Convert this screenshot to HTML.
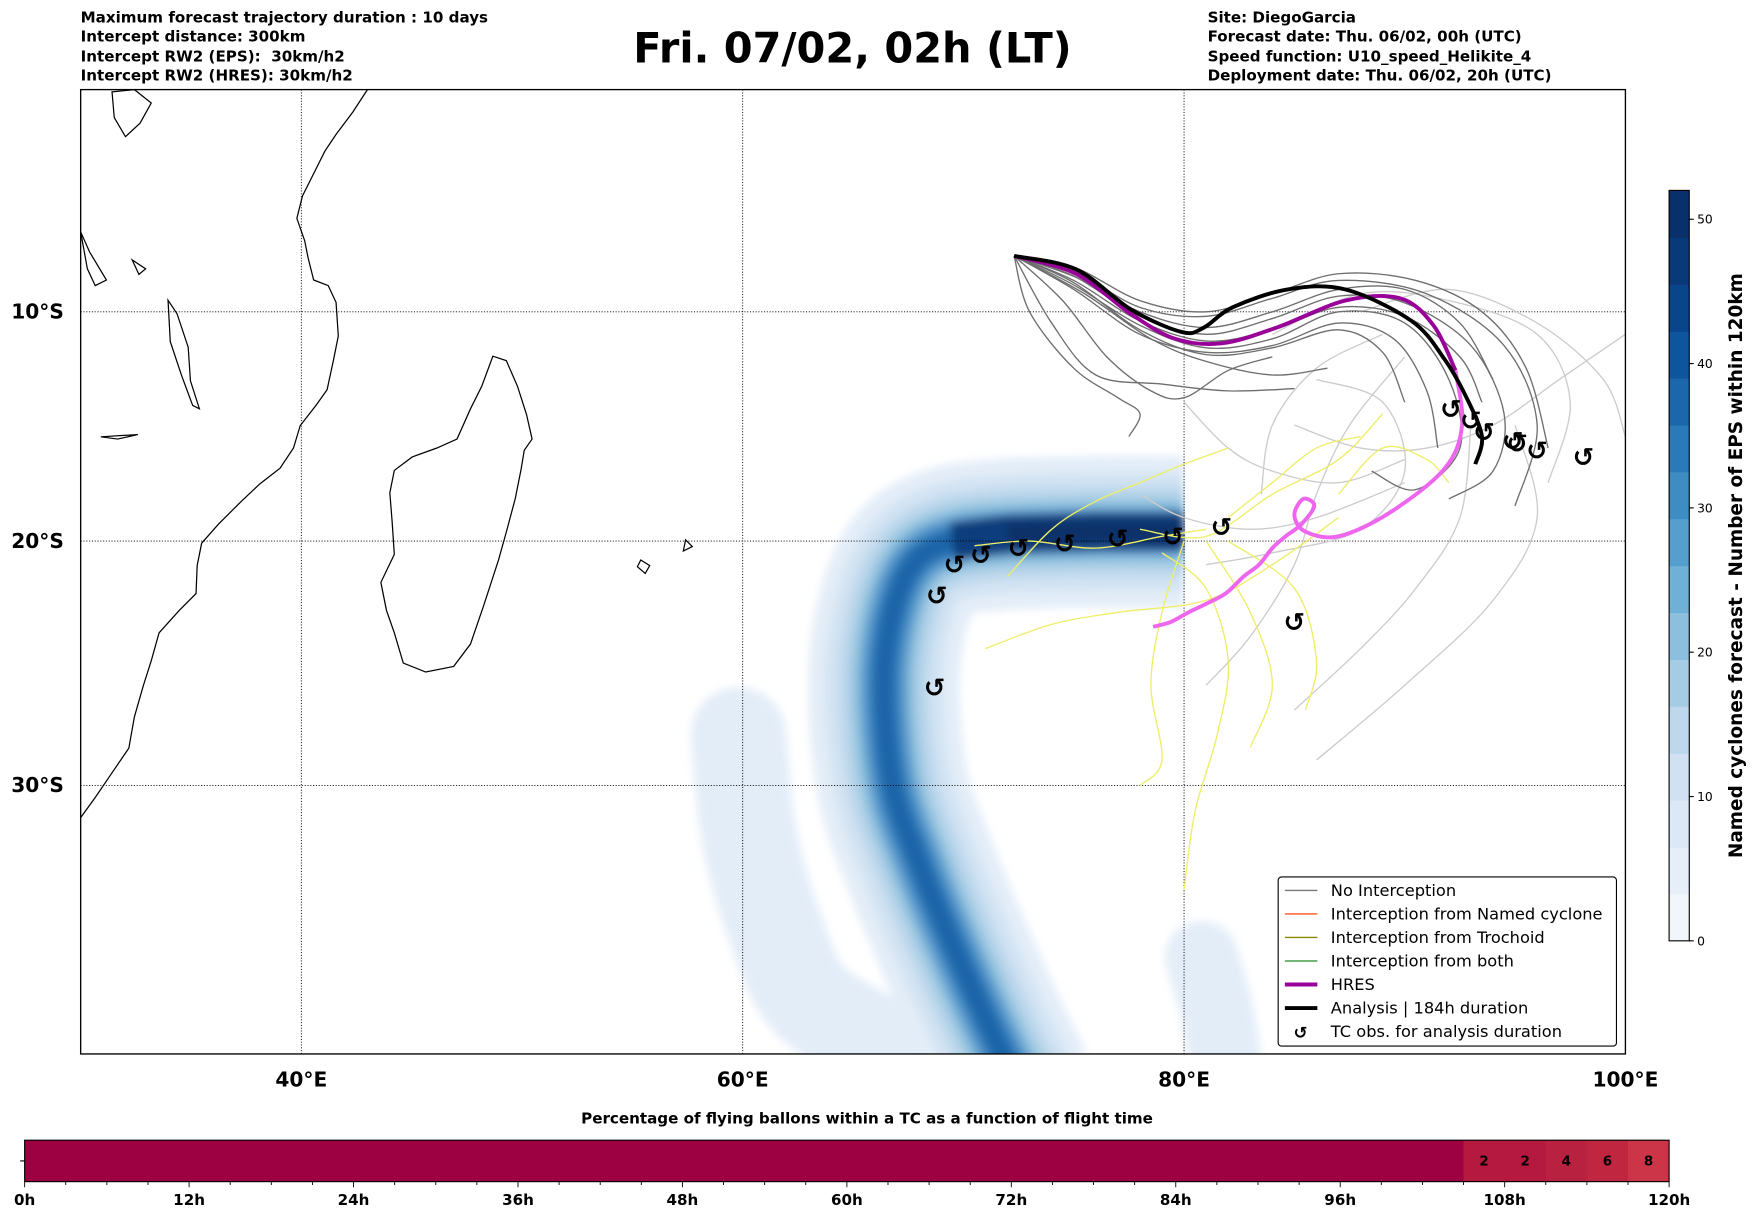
<!DOCTYPE html>
<html><head><meta charset="utf-8"><style>
html,body{margin:0;padding:0;background:#fff;}
svg{display:block;font-family:"DejaVu Sans","Liberation Sans",sans-serif;}
</style></head><body>
<svg id="chart" width="1752" height="1213" viewBox="0 0 1564 1083" preserveAspectRatio="none" xmlns="http://www.w3.org/2000/svg">
<g font-size="13.5" font-weight="bold">
<text x="72" y="20">Maximum forecast trajectory duration : 10 days</text>
<text x="72" y="37">Intercept distance: 300km</text>
<text x="72" y="55">Intercept RW2 (EPS):&#160; 30km/h2</text>
<text x="72" y="72">Intercept RW2 (HRES): 30km/h2</text>
</g>
<text x="761" y="56" font-size="37" font-weight="bold" text-anchor="middle">Fri. 07/02, 02h (LT)</text>
<g font-size="13.5" font-weight="bold">
<text x="1078" y="20">Site: DiegoGarcia</text>
<text x="1078" y="37">Forecast date: Thu. 06/02, 00h (UTC)</text>
<text x="1078" y="55">Speed function: U10_speed_Helikite_4</text>
<text x="1078" y="72">Deployment date: Thu. 06/02, 20h (UTC)</text>
</g>
<defs><clipPath id="mapclip"><rect x="72" y="80" width="1379" height="861"/></clipPath>
<filter id="blur4" filterUnits="userSpaceOnUse" x="0" y="0" width="1564" height="1083"><feGaussianBlur stdDeviation="4"/></filter></defs>
<g id="map" clip-path="url(#mapclip)"></g>
<rect x="72" y="80" width="1379" height="861" fill="none" stroke="#000" stroke-width="1.2"/>
<g id="axislabels" font-size="18" font-weight="bold"></g>
<g id="legend"></g>
<g id="cbar"></g>
<g id="bbar"></g>
</svg>
<script>
// ---- data ----
const lonTicks=[40,60,80,100];
const latTicks=[-10,-20,-30];
const bandCenter=[[80,-19.6],[76,-19.6],[72,-19.7],[69.5,-20.0],[67.8,-20.9],[66.8,-23],[66.4,-26],[66.8,-30],[68,-33],[69.5,-36],[71.5,-39.5],[72.5,-41]];
const lightBlob=[[59.8,-28],[60.3,-32],[61.5,-35.5],[63,-38],[66,-39.5]];
const rightBlob=[[80.8,-36.5],[81.5,-38.5],[82,-41]];
const analysisTrack=[[72.3,-7.5],[75.1,-8.1],[77.6,-9.9],[79.9,-10.9],[80.9,-10.7],[82.2,-9.8],[84.7,-9.0],[87.3,-9.0],[90.3,-10.4],[91.8,-12.1],[92.8,-13.8],[93.5,-15.5],[93.2,-16.7]];
const hresTrack=[[72.3,-7.5],[75.1,-8.3],[77.6,-10.1],[79.6,-11.2],[81.7,-11.4],[84.2,-10.7],[87.3,-9.5],[89.8,-9.4],[91.3,-10.6],[92.3,-12.6]];
const hresTail=[[92.3,-12.6],[92.6,-15.0],[91.8,-16.9],[89.3,-18.8],[87,-19.8],[85.5,-19.6],[85.0,-18.9],[85.4,-18.2],[85.9,-18.5],[85.3,-19.3],[84.6,-19.8],[84.0,-20.3],[83.4,-21.0],[82.7,-21.5],[81.9,-22.2],[81.1,-22.6],[80.2,-23.0],[79.4,-23.4],[78.6,-23.6]];
const cycObs=[[68.8,-22.3],[69.6,-21.0],[70.8,-20.6],[72.5,-20.3],[74.6,-20.1],[77.0,-19.9],[79.5,-19.8],[81.7,-19.4],[68.7,-26.1],[85.0,-23.4],[92.1,-14.3],[93.0,-14.8],[93.6,-15.3],[94.9,-15.7],[95.1,-15.8],[96.0,-16.1],[98.1,-16.4]];
const darkTracks=[
 [[72.3,-7.5],[75,-8.8],[78,-10.6],[81,-11.6],[84,-11.2],[87,-10],[90,-10.5],[92,-13],[92.5,-16],[90.5,-17.8],[88.5,-17]],
 [[72.3,-7.5],[75,-8.4],[78,-10.2],[81,-11.0],[84,-10.3],[87,-9.3],[90,-9.6],[93,-11.5],[94.5,-14.5],[94,-17],[92,-18.2]],
 [[72.3,-7.5],[74.5,-9.5],[76.5,-12],[78.5,-13.5],[80,-13.8],[82,-12.6],[84,-12]],
 [[72.3,-7.5],[73,-10],[75,-12.5],[77,-13.8],[78,-14.5],[77.5,-15.5]],
 [[72.3,-7.5],[75,-8.2],[78,-9.8],[81,-10.2],[84,-9.4],[87,-8.6],[91,-9.2],[94.5,-11.5],[96,-15],[95,-18.5]],
 [[72.3,-7.5],[75.5,-9.2],[78.5,-11.2],[81,-12.2],[84,-12.8],[86.5,-12.5]],
 [[72.3,-7.5],[75,-8.6],[78,-10.4],[81,-11.3],[84,-10.8],[87,-9.8],[90,-10.2],[92.5,-12],[93.5,-14]],
 [[72.3,-7.5],[75,-9.0],[78,-11.0],[81,-11.8],[84,-11.5],[87,-10.5],[89.5,-11.2],[91,-13.5],[91.5,-16]],
 [[72.3,-7.5],[75,-8.0],[78,-9.5],[81,-10.0],[84,-9.2],[87,-8.3],[90.5,-8.6],[93.5,-10],[95.5,-12.5],[96.5,-16]],
 [[72.3,-7.5],[74,-10.5],[76,-12.8],[79,-13.2],[82,-13.5],[85,-13.4]],
 [[72.3,-7.5],[75,-8.7],[78,-10.8],[81,-11.9],[84,-11.6],[87,-10.8],[89,-11.8],[90,-14]],
 [[72.3,-7.5],[75.2,-8.5],[78,-10.0],[81,-10.7],[84,-10.0],[87,-9.0],[90,-9.0],[92.5,-10.5],[94,-13]]
];
const lightTracks=[
 [[84,-11],[88,-9.2],[92,-9.5],[96,-11],[97.5,-14],[96.5,-17.5]],
 [[86,-13],[89,-14],[90,-17],[88,-19.5],[84,-20.5],[81,-21]],
 [[88,-10],[92,-9],[96,-10.5],[99,-13],[100,-15.5]],
 [[90,-12],[87.5,-15],[86,-18],[85,-21],[83,-24],[81,-26]],
 [[93,-15],[92.5,-19],[90.5,-22],[88,-24.5],[85,-27]],
 [[95,-15],[96,-19],[94,-22.5],[90,-26],[86,-29]],
 [[78,-18],[80,-19],[83,-19.5],[86,-19],[90,-17.5]],
 [[85,-15],[88,-16],[91,-16],[94,-15],[97,-13],[100,-11]],
 [[80,-14],[82,-16],[84,-17],[87,-17.5],[90,-16.5]],
 [[89,-11],[86,-12.5],[84,-15],[83.5,-18]]
];
const yellowTracks=[
 [[72,-21.5],[74,-19.5],[76,-18.3],[78,-17.5],[80,-16.7],[82,-16]],
 [[71,-24.5],[74,-23.5],[77,-23],[81,-22.5],[84,-21],[87,-19]],
 [[79,-20.5],[81,-22],[82,-25],[81.5,-28],[80.5,-31],[80,-34]],
 [[81,-20],[83,-23],[84,-26],[83,-28.5]],
 [[80,-20],[79,-23],[78.5,-26],[79,-29],[78,-30]],
 [[82,-20],[85,-22],[86,-25],[85.5,-27]],
 [[78,-19.5],[81,-19.8],[84,-18],[87,-16.5],[89,-14.5]],
 [[70.5,-20.2],[73,-20],[76,-20.3],[79,-19.8],[81,-19.5]],
 [[87,-18],[89,-16],[91,-16.5],[92,-17.5]],
 [[82,-19],[84,-17.5],[86,-16],[88,-15.5]]
];
const cbarTicks=[0,10,20,30,40,50];
const cbarMax=52;
const cbarColors=["#f0f6fc","#e6eff9","#dbe8f5","#cfe1f2","#bdd7ec","#a5cce4","#8cbfdd","#6fb0d6","#549fcd","#3d8dc3","#2a7ab9","#1a67ac","#0d559c","#08458a","#083a7a","#08306b"];
const barHours=[0,105,108,111,114,117];
const barEnds=[105,108,111,114,117,120];
const barValues=[0,2,2,4,6,8];
const barColors=["#9e0142","#b5193f","#b5193f","#b8213f","#c0263f","#cc3447"];
const hourTicks=[0,12,24,36,48,60,72,84,96,108,120];

// ---- scales ----
const X0=72, PXDEG=19.7;
function merc(lat){const r=lat*Math.PI/180;return Math.log(Math.tan(Math.PI/4+r/2));}
function sx(lon){return X0+(lon-30)*PXDEG;}
function sy(lat){return 80-1131*merc(lat);}
const NS="http://www.w3.org/2000/svg";
function mk(tag,attrs,parent){const e=document.createElementNS(NS,tag);for(const k in attrs)e.setAttribute(k,attrs[k]);parent.appendChild(e);return e;}
function pathOf(pts){return pts.map((p,i)=>(i?"L":"M")+sx(p[0]).toFixed(1)+","+sy(p[1]).toFixed(1)).join(" ");}
function smooth(pts){
 const P=pts.map(p=>[sx(p[0]),sy(p[1])]);let d="M"+P[0][0]+","+P[0][1];
 for(let i=0;i<P.length-1;i++){const p0=P[Math.max(0,i-1)],p1=P[i],p2=P[i+1],p3=P[Math.min(P.length-1,i+2)];
  d+=" C"+(p1[0]+(p2[0]-p0[0])/6)+","+(p1[1]+(p2[1]-p0[1])/6)+" "+(p2[0]-(p3[0]-p1[0])/6)+","+(p2[1]-(p3[1]-p1[1])/6)+" "+p2[0]+","+p2[1];}
 return d;}
const map=document.getElementById('map');

// density field
const dens=mk('g',{filter:"url(#blur4)"},map);


const lb=mk('path',{d:smooth(lightBlob),fill:"none",stroke:"#e3edf8","stroke-width":85,"stroke-linecap":"round","stroke-linejoin":"round"},dens);


const rb=mk('path',{d:smooth(rightBlob),fill:"none",stroke:"#e3edf8","stroke-width":65,"stroke-linecap":"round"},dens);


const bandW=[135,105,80,60,44,30,18];
const bandC=["#e3edf8","#d2e3f3","#bad6eb","#94c4df","#609fcf","#3580bd","#1d65a8"];
bandW.forEach((w,i)=>{
 const b=mk('path',{d:smooth(bandCenter),fill:"none",stroke:bandC[i],"stroke-width":w,"stroke-linejoin":"round"},dens);
 
 
});
const core=mk('path',{d:pathOf(bandCenter.slice(0,4)),fill:"none",stroke:"#0b3d7c","stroke-width":34},dens);


const core2=mk('path',{d:pathOf(bandCenter.slice(0,3)),fill:"none",stroke:"#08306b","stroke-width":20},dens);


// sharp east edge cut
const cut=mk('rect',{x:sx(80)+1,y:380,width:90,height:200,fill:"#fff"},map);



// coastlines (decorative geography)
const coast=[
 "M72,730 L85,712 L100,690 L115,668 L120,640 L128,612 L135,590 L142,565 L160,545 L175,530 L176,505 L180,485 L195,468 L215,448 L232,432 L250,418 L262,400 L268,380 L282,362 L292,348 L298,320 L302,300 L300,270 L293,255 L280,250 L275,230 L272,215 L265,195 L270,175 L280,155 L290,135 L300,120 L315,100 L328,80",
 "M440,318 L452,322 L462,345 L470,370 L475,392 L468,402 L465,420 L460,445 L452,475 L445,500 L432,540 L420,575 L405,595 L380,600 L360,592 L352,565 L345,545 L340,520 L352,495 L350,465 L348,440 L352,420 L368,408 L390,400 L408,392 L420,365 L430,345 Z",
 "M72,207 L80,225 L95,250 L85,255 L78,240 Z",
 "M150,268 L158,280 L168,310 L170,340 L178,365 L172,362 L162,335 L152,305 Z",
 "M118,232 L130,240 L124,245 Z",
 "M90,390 L123,388 L105,392 Z",
 "M572,500 L580,505 L576,512 L569,506 Z",
 "M612,482 L618,488 L610,492 Z",
 "M100,82 L120,80 L135,92 L125,110 L112,122 L102,105 Z"
];
coast.forEach(d=>{const c=mk('path',{d:d,fill:"none",stroke:"#000","stroke-width":1.1},map);
 
 });

// gridlines
lonTicks.forEach(v=>{const l=mk('line',{x1:sx(v),x2:sx(v),y1:80,y2:941,stroke:"#000","stroke-width":0.8,"stroke-dasharray":"1,1.5"},map);
 
 });
latTicks.forEach(v=>{const l=mk('line',{x1:72,x2:1451,y1:sy(v),y2:sy(v),stroke:"#000","stroke-width":0.8,"stroke-dasharray":"1,1.5"},map);
 
 });

// tracks
lightTracks.forEach(t=>{const p=mk('path',{d:smooth(t),fill:"none",stroke:"#cccccc","stroke-width":1.2},map);
 
 });
yellowTracks.forEach(t=>{const p=mk('path',{d:smooth(t),fill:"none",stroke:"#eeee66","stroke-width":1.2},map);
 
 });
darkTracks.forEach(t=>{const p=mk('path',{d:smooth(t),fill:"none",stroke:"#6e6e6e","stroke-width":1.2},map);
 
 });
const ht=mk('path',{d:smooth(hresTail),fill:"none",stroke:"#ee66ee","stroke-width":3.5,"stroke-linejoin":"round"},map);


const h=mk('path',{d:smooth(hresTrack),fill:"none",stroke:"#990099","stroke-width":3.5},map);


const a=mk('path',{d:smooth(analysisTrack),fill:"none",stroke:"#000","stroke-width":3.5},map);


cycObs.forEach(p=>{const t=mk('text',{x:sx(p[0]),y:sy(p[1])+8,"font-size":23,"font-weight":"bold","text-anchor":"middle"},map);
 t.textContent="↺";
 
 });

// axis labels
const al=document.getElementById('axislabels');
lonTicks.forEach(v=>{const t=mk('text',{x:sx(v),y:970,"text-anchor":"middle"},al);t.textContent=v+"°E";
 
 });
latTicks.forEach(v=>{const t=mk('text',{x:57,y:sy(v)+6,"text-anchor":"end"},al);t.textContent=(-v)+"°S";
 
 });

// legend
const lg=document.getElementById('legend');
mk('rect',{x:1141,y:783,width:302,height:151,rx:3,fill:"#fff","fill-opacity":0.9,stroke:"#000","stroke-width":1},lg);
const legItems=[["No Interception","#777",1.2],["Interception from Named cyclone","#ff5522",1.2],["Interception from Trochoid","#888800",1.2],["Interception from both","#228822",1.2],["HRES","#990099",3.5],["Analysis | 184h duration","#000",3.5],["TC obs. for analysis duration",null,0]];
legItems.forEach((it,i)=>{const y=795+i*21;
 const g=mk('g',{},lg);
 
 
 if(it[1])mk('line',{x1:1147,x2:1176,y1:y,y2:y,stroke:it[1],"stroke-width":it[2]},g);
 else{const s=mk('text',{x:1161,y:y+6,"font-size":15,"font-weight":"bold","text-anchor":"middle"},g);s.textContent="↺";}
 const t=mk('text',{x:1188,y:y+5,"font-size":14.5},g);t.textContent=it[0];});

// colorbar
const cb=document.getElementById('cbar');
const cy0=840,cy1=170,cx=1490,cw=18;
function cyv(v){return cy0-(v/cbarMax)*(cy0-cy1);}
for(let i=0;i<cbarColors.length;i++){const v0=i*cbarMax/cbarColors.length,v1=(i+1)*cbarMax/cbarColors.length;
 const r=mk('rect',{x:cx,y:cyv(v1),width:cw,height:cyv(v0)-cyv(v1)+0.5,fill:cbarColors[i]},cb);
 
 }
mk('rect',{x:cx,y:cy1,width:cw,height:cy0-cy1,fill:"none",stroke:"#000","stroke-width":1},cb);
cbarTicks.forEach(v=>{mk('line',{x1:cx+cw,x2:cx+cw+4,y1:cyv(v),y2:cyv(v),stroke:"#000"},cb);
 const t=mk('text',{x:cx+cw+7,y:cyv(v)+4,"font-size":11},cb);t.textContent=v;
 
 });
const ct=mk('text',{x:0,y:0,"font-size":16.5,"font-weight":"bold","text-anchor":"middle",transform:"translate(1555,505) rotate(-90)"},cb);
ct.textContent="Named cyclones forecast - Number of EPS within 120km";



// bottom bar
const bb=document.getElementById('bbar');
const bx0=22,bx1=1490,by=1018,bh=37;
function bxv(h){return bx0+(h/120)*(bx1-bx0);}
const bt=mk('text',{x:774,y:1003,"font-size":13.5,"font-weight":"bold","text-anchor":"middle"},bb);
bt.textContent="Percentage of flying ballons within a TC as a function of flight time";


barHours.forEach((h0,i)=>{const r=mk('rect',{x:bxv(h0),y:by,width:bxv(barEnds[i])-bxv(h0)+0.3,height:bh,fill:barColors[i]},bb);
 
 
 if(barValues[i]>0){const t=mk('text',{x:(bxv(h0)+bxv(barEnds[i]))/2,y:by+bh/2+4,"font-size":12,"font-weight":"bold","text-anchor":"middle"},bb);t.textContent=barValues[i];
  
  }});
mk('rect',{x:bx0,y:by,width:bx1-bx0,height:bh,fill:"none",stroke:"#000","stroke-width":1},bb);
mk('line',{x1:bx0-4,x2:bx0,y1:by+bh/2,y2:by+bh/2,stroke:"#000"},bb);
for(let hh=0;hh<=120;hh+=3){mk('line',{x1:bxv(hh),x2:bxv(hh),y1:by+bh,y2:by+bh+(hh%12===0?5:3),stroke:"#000","stroke-width":0.8},bb);}
hourTicks.forEach(hh=>{const t=mk('text',{x:bxv(hh),y:1076,"font-size":13.5,"font-weight":"bold","text-anchor":"middle"},bb);t.textContent=hh+"h";
 
 });
</script>
</body></html>
